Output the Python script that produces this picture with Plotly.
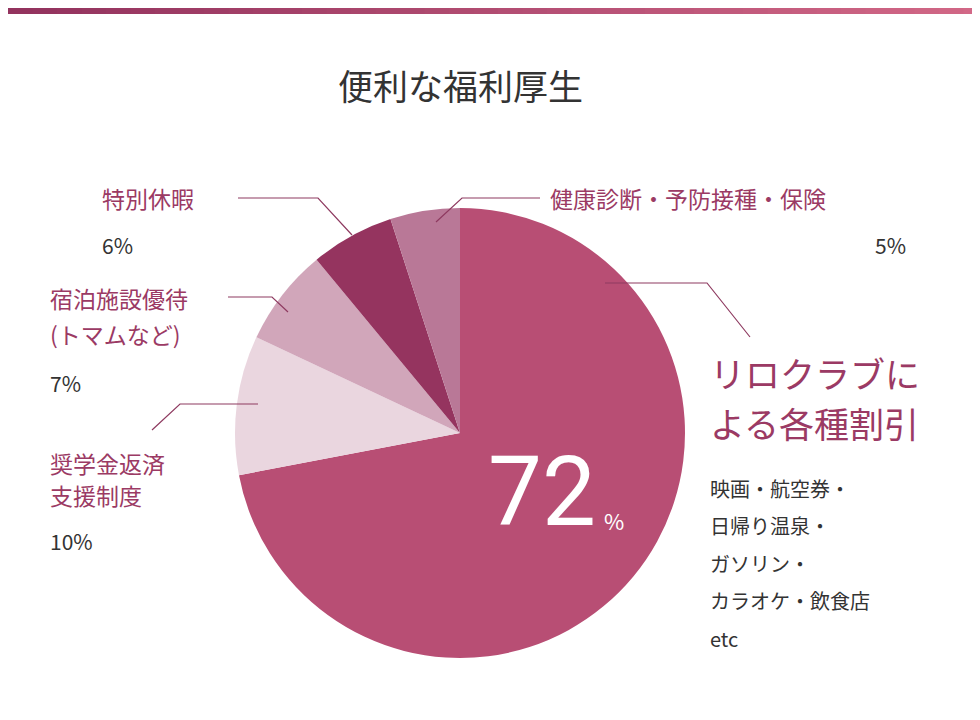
import plotly.graph_objects as go

labels = ["リロクラブによる各種割引", "奨学金返済支援制度", "宿泊施設優待(トマムなど)", "特別休暇", "健康診断・予防接種・保険"]
values = [72, 10, 7, 6, 5]
colors = ["#b84e74", "#ead6df", "#d1a6ba", "#95345f", "#b97897"]

W, H = 980, 720
OFF = 8
def px(x): return (x - OFF) / W
def py(y): return 1 - (y - OFF) / H

fig = go.Figure(go.Pie(
    labels=labels, values=values, sort=False, direction="clockwise", rotation=0,
    marker=dict(colors=colors, line=dict(width=0)), textinfo="none", hoverinfo="label+percent",
    domain=dict(x=[px(235), px(685)], y=[py(658), py(208)]), showlegend=False))

shapes = []
c0, c1 = (0x93, 0x33, 0x5e), (0xd2, 0x68, 0x87)
n = 40
for i in range(n):
    t = i / (n - 1)
    col = "rgb(%d,%d,%d)" % tuple(int(a + (b - a) * t) for a, b in zip(c0, c1))
    shapes.append(dict(type="rect", xref="paper", yref="paper", x0=i / n, x1=(i + 1) / n + 0.002,
                       y0=1 - 6 / H, y1=1, fillcolor=col, line=dict(width=0)))
lc = "#8e3a60"
paths = [
    [(238, 198), (318, 198), (352, 235)],
    [(540, 198), (462, 198), (436, 222)],
    [(228, 297), (272, 297), (288, 312)],
    [(152, 430), (180, 404), (258, 404)],
    [(750, 337), (707, 283), (605, 283)],
]
for p in paths:
    d = "M " + " L ".join(f"{px(x)},{py(y)}" for x, y in p)
    shapes.append(dict(type="path", xref="paper", yref="paper", path=d, line=dict(color=lc, width=1.2)))

font = "Noto Sans CJK JP"
pink = "#9b3a64"
gray = "#333333"
ann = []
def A(x, y, t, size, color, xa="left"):
    ann.append(dict(x=px(x), y=py(y), xref="paper", yref="paper", text=t, showarrow=False,
                    xanchor=xa, yanchor="middle", align=xa, font=dict(family=font, size=size, color=color)))

A(460, 85, "便利な福利厚生", 35, gray, "center")
A(100, 198, "特別休暇", 23, pink)
A(100, 245, "6%", 21, gray)
A(548, 198, "健康診断・予防接種・保険", 23, pink)
A(908, 245, "5%", 21, gray, "right")
A(48, 298, "宿泊施設優待", 23, pink)
A(48, 334, "(トマムなど)", 23, pink)
A(48, 383, "7%", 21, gray)
A(48, 463, "奨学金返済", 23, pink)
A(48, 495, "支援制度", 23, pink)
A(48, 541, "10%", 21, gray)
A(708, 372, "リロクラブに", 35, pink)
A(708, 423, "よる各種割引", 35, pink)
for i, t in enumerate(["映画・航空券・", "日帰り温泉・", "ガソリン・", "カラオケ・飲食店", "etc"]):
    A(708, 488 + i * 37.5, t, 20, gray)
ann.append(dict(x=px(598), y=py(492), xref="paper", yref="paper", text="72", showarrow=False,
                xanchor="right", yanchor="middle", font=dict(family="Roboto", size=96, color="white")))
A(602, 520, "%", 22, "white")

fig.update_layout(width=W, height=H, margin=dict(l=0, r=0, t=0, b=0), paper_bgcolor="white",
                  shapes=shapes, annotations=ann)
fig.write_html("out.html")
